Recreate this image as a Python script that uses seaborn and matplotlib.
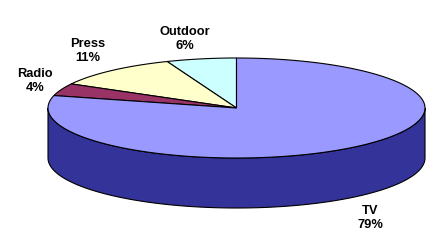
import numpy as np
import matplotlib
matplotlib.use("Agg")
import matplotlib.pyplot as plt
from matplotlib.patches import Polygon
import seaborn as sns

# ---- data ----
categories = ["Outdoor", "Press", "Radio", "TV"]
shares = [6, 11, 4, 79]
top_colors = ["#CCFFFF", "#FFFFCC", "#993366", "#9999FF"]
side_colors = ["#99CCCC", "#CCCC99", "#662244", "#333399"]

# ---- layout ----
W, H = 439, 250
cx, cy, rx, ry, depth = 236.5, 108, 188.5, 50, 50
start_angle = 90.0
label_pos = {"Outdoor": (185, 39), "Press": (88, 51), "Radio": (35, 81), "TV": (370, 218)}

sns.set_theme(style="white")
plt.rcParams["font.family"] = ["Liberation Sans", "DejaVu Sans"]
pal_top = sns.color_palette(top_colors)
pal_side = sns.color_palette(side_colors)

fig = plt.figure(figsize=(W / 100, H / 100), dpi=100)
ax = fig.add_axes([0, 0, 1, 1])
ax.set_xlim(0, W)
ax.set_ylim(H, 0)
ax.axis("off")


def pt(t_deg, dy=0.0):
    t = np.radians(t_deg)
    return cx + rx * np.cos(t), cy - ry * np.sin(t) + dy


vals = np.array(shares, dtype=float)
bounds = start_angle + np.concatenate([[0], np.cumsum(vals)]) / vals.sum() * 360.0

# side walls (front half only: 180..360 deg)
for i in range(len(categories)):
    a0, a1 = bounds[i], bounds[i + 1]
    segs = []
    for k in (0, 1):
        lo = max(a0, 180 + 360 * k)
        hi = min(a1, 360 + 360 * k)
        if hi > lo:
            segs.append((lo, hi))
    for lo, hi in segs:
        ts = np.linspace(lo, hi, 200)
        top = [pt(t) for t in ts]
        bot = [pt(t, depth) for t in ts[::-1]]
        ax.add_patch(Polygon(top + bot, closed=True, facecolor=pal_side[i],
                             edgecolor="black", linewidth=0.8, zorder=1))

# top slices
for i in range(len(categories)):
    a0, a1 = bounds[i], bounds[i + 1]
    ts = np.linspace(a0, a1, max(int((a1 - a0) * 2), 10))
    poly = [(cx, cy)] + [pt(t) for t in ts]
    ax.add_patch(Polygon(poly, closed=True, facecolor=pal_top[i],
                         edgecolor="black", linewidth=0.8, zorder=2))

# labels
for name, val in zip(categories, shares):
    x, y = label_pos[name]
    ax.text(x, y, f"{name}\n{val}%", ha="center", va="center", fontsize=9.3,
            fontweight="bold", linespacing=1.25, color="black", zorder=3)

fig.savefig("out.png", dpi=100, facecolor="white")
